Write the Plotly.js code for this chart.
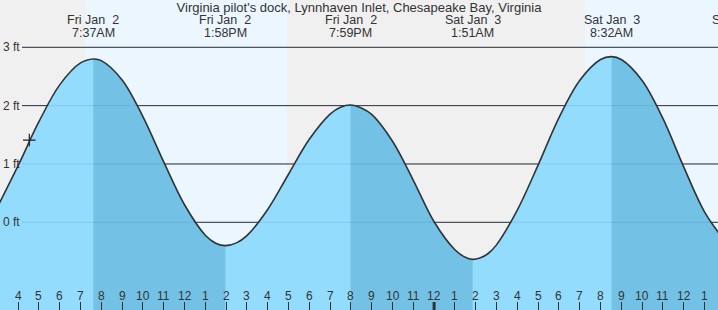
<!DOCTYPE html>
<html>
<head>
<meta charset="utf-8">
<script src="https://cdn.plot.ly/plotly-3.0.1.min.js"></script>
<style>
  html, body { margin: 0; padding: 0; background: #f0f0f0; }
  #chart { width: 718px; height: 310px; }
</style>
</head>
<body>
<div id="chart"></div>
<script>
// ---- data (hours since Fri Jan 2 00:00, heights in ft) ----
const curveHours = [3, 4, 5, 6, 7, 7.617, 8, 9, 10, 11, 12, 13, 13.5, 13.967, 14.5, 15, 16, 17, 18, 19, 19.5, 19.983, 20.5, 21, 22, 23, 24, 25, 25.5, 25.85, 26.2, 26.6, 27, 28, 29, 30, 31, 32, 32.533, 33, 34, 35, 36, 37, 38];
const curveFeet  = [0.255, 0.97, 1.724, 2.356, 2.732, 2.80, 2.772, 2.441, 1.812, 1.036, 0.301, -0.221, -0.358, -0.40, -0.353, -0.228, 0.220, 0.824, 1.423, 1.856, 1.973, 2.01, 1.96, 1.85, 1.39, 0.72, 0.01, -0.47, -0.60, -0.635, -0.612, -0.535, -0.387, 0.21, 0.98, 1.79, 2.43, 2.79, 2.84, 2.79, 2.43, 1.78, 0.95, 0.18, -0.33];

const tideHours = [7.617, 13.967, 19.983, 25.85, 32.533, 38.73];
const tideDays  = ["Fri Jan  2", "Fri Jan  2", "Fri Jan  2", "Sat Jan  3", "Sat Jan  3", "Sat Jan  3"];
const tideClock = ["7:37AM", "1:58PM", "7:59PM", "1:51AM", "8:32AM", "2:44PM"];

// falling-tide (darker) intervals: high -> low
const fallStart = [7.617, 19.983, 32.533];
const fallEnd   = [13.967, 25.85, 38];

// daylight intervals
const dayStart = [7.22, 31.255];
const dayEnd   = [16.93, 40];

const tickHours  = [4,5,6,7,8,9,10,11,12,13,14,15,16,17,18,19,20,21,22,23,24,25,26,27,28,29,30,31,32,33,34,35,36,37];
const tickLabels = ["4","5","6","7","8","9","10","11","12","1","2","3","4","5","6","7","8","9","10","11","12","1","2","3","4","5","6","7","8","9","10","11","12","1"];
const midnightHour = 24;

const gridFeet   = [0, 1, 2, 3];
const gridLabels = ["0 ft", "1 ft", "2 ft", "3 ft"];

const nowHour = 4.54, nowFeet = 1.41;

const titleText = "Virginia pilot's dock, Lynnhaven Inlet, Chesapeake Bay, Virginia";

// ---- style ----
const FONT = '"Liberation Sans", Arial, sans-serif';
const TXT = '#333';
const W = 718, H = 310;
const xr = [3.13, 3.13 + W / 20.8];
const yr = [-1.5035, 3.811];
const BASE = -3;
const lightFill = 'rgb(148,220,254)';
const darkFill = 'rgb(115,194,230)';

const traces = [];
// full light fill
traces.push({x: [curveHours[0], curveHours[curveHours.length - 1]], y: [BASE, BASE], mode: 'lines', line: {width: 0}, hoverinfo: 'skip'});
traces.push({x: curveHours, y: curveFeet, mode: 'lines', line: {width: 0, shape: 'spline', smoothing: 1}, fill: 'tonexty', fillcolor: lightFill, hoverinfo: 'skip'});
// darker falling segments
for (let i = 0; i < fallStart.length; i++) {
  const sx = [], sy = [];
  curveHours.forEach((h, k) => { if (h >= fallStart[i] - 1e-6 && h <= fallEnd[i] + 1e-6) { sx.push(h); sy.push(curveFeet[k]); } });
  traces.push({x: [fallStart[i], fallEnd[i]], y: [BASE, BASE], mode: 'lines', line: {width: 0}, hoverinfo: 'skip'});
  traces.push({x: sx, y: sy, mode: 'lines', line: {width: 0, shape: 'spline', smoothing: 1}, fill: 'tonexty', fillcolor: darkFill, hoverinfo: 'skip'});
}
// curve outline
traces.push({x: curveHours, y: curveFeet, mode: 'lines', line: {color: '#333', width: 1.6, shape: 'spline', smoothing: 1}, hoverinfo: 'skip'});
// current-time marker
traces.push({x: [nowHour], y: [nowFeet], mode: 'markers', marker: {symbol: 'cross-thin', size: 9, color: '#222', line: {width: 1.2, color: '#222'}}, hoverinfo: 'skip'});

const shapes = [];
dayStart.forEach((s, i) => {
  shapes.push({type: 'rect', xref: 'x', yref: 'paper', x0: s, x1: dayEnd[i], y0: 0, y1: 1, fillcolor: 'rgb(235,246,255)', line: {width: 0}, layer: 'below'});
});
gridFeet.forEach(v => {
  shapes.push({type: 'line', xref: 'paper', yref: 'y', x0: 22 / W, x1: 1, y0: v, y1: v, line: {color: '#333', width: 1}, layer: 'below'});
});
gridFeet.forEach(v => {
  shapes.push({type: 'line', xref: 'paper', yref: 'y', x0: 22 / W, x1: 1, y0: v, y1: v, line: {color: 'rgba(0,70,120,0.13)', width: 1}, layer: 'above'});
});
shapes.push({type: 'line', xref: 'x', yref: 'paper', x0: midnightHour, x1: midnightHour, y0: 0, y1: 8 / H, line: {color: '#333', width: 3}, layer: 'above'});

const annotations = [];
const frac = t => (t - xr[0]) / (xr[1] - xr[0]);
tideHours.forEach((t, i) => {
  annotations.push({x: frac(t), xref: 'paper', y: 1, yref: 'paper', yanchor: 'middle', xanchor: 'center', yshift: -19.5, height: 10, text: tideDays[i], showarrow: false, font: {family: FONT, size: 12.5, color: TXT}});
  annotations.push({x: frac(t), xref: 'paper', y: 1, yref: 'paper', yanchor: 'middle', xanchor: 'center', yshift: -32.5, height: 10, text: tideClock[i], showarrow: false, font: {family: FONT, size: 12.5, color: TXT}});
});
tickHours.forEach((t, i) => {
  annotations.push({x: t, xref: 'x', y: 0, yref: 'paper', yanchor: 'middle', xanchor: 'center', yshift: 14, text: tickLabels[i], showarrow: false, font: {family: FONT, size: 12, color: TXT}});
});
gridFeet.forEach((v, i) => {
  annotations.push({x: 0, xref: 'paper', y: v, yref: 'y', yanchor: 'middle', xanchor: 'left', xshift: 1, text: gridLabels[i], showarrow: false, font: {family: FONT, size: 12, color: TXT}});
});

const layout = {
  width: W, height: H,
  margin: {l: 0, r: 0, t: 0, b: 0, pad: 0},
  paper_bgcolor: 'rgb(240,240,240)',
  plot_bgcolor: 'rgb(240,240,240)',
  showlegend: false,
  title: {text: titleText, x: 0.5, xanchor: 'center', xref: 'paper', y: 1 - 7 / H, yref: 'container', yanchor: 'middle', font: {family: FONT, size: 13, color: TXT}},
  xaxis: {range: xr, showgrid: false, zeroline: false, showline: false, ticks: 'inside', ticklen: 8, tickwidth: 1, tickcolor: '#333', tickmode: 'array', tickvals: tickHours, showticklabels: false, fixedrange: true},
  yaxis: {range: yr, showgrid: false, zeroline: false, showline: false, showticklabels: false, ticks: '', fixedrange: true},
  shapes: shapes,
  annotations: annotations,
  hovermode: false
};

Plotly.newPlot('chart', traces, layout, {staticPlot: true, displayModeBar: false});
</script>
</body>
</html>
